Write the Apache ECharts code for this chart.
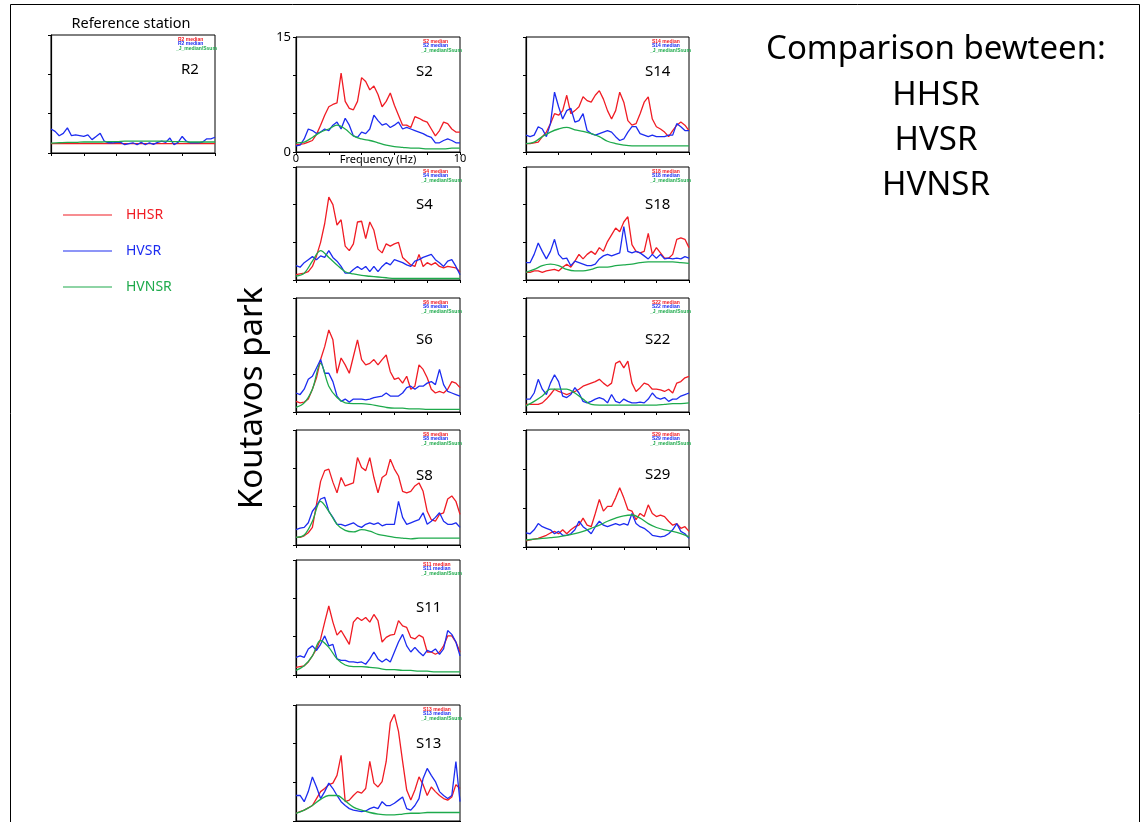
<!DOCTYPE html>
<html>
<head>
<meta charset="utf-8">
<script src="https://cdn.jsdelivr.net/npm/echarts@6/dist/echarts.min.js"></script>
<style>
  html, body { margin: 0; padding: 0; background: #fff; }
  #chart { width: 1148px; height: 822px; }
</style>
</head>
<body>
<div id="chart"></div>
<script>
// frequency axis (Hz)
const freq = [0, 0.25, 0.5, 0.75, 1, 1.25, 1.5, 1.75, 2, 2.25, 2.5, 2.75, 3, 3.25, 3.5, 3.75, 4, 4.25, 4.5, 4.75,
  5, 5.25, 5.5, 5.75, 6, 6.25, 6.5, 6.75, 7, 7.25, 7.5, 7.75, 8, 8.25, 8.5, 8.75, 9, 9.25, 9.5, 9.75, 10];
const freqCoarse = [0, 0.5, 1, 1.5, 2, 2.5, 3, 3.5, 4, 4.5, 5, 5.5, 6, 6.5, 7, 7.5, 8, 8.5, 9, 9.5, 10];
const xTickLabels = [0, 10];
const yTickLabels = [0, 15];

// R2 - reference station
const r2Hhsr = [1.2, 1.2, 1.2, 1.2, 1.2, 1.2, 1.2, 1.2, 1.2, 1.2, 1.2, 1.2, 1.2, 1.2, 1.2, 1.2, 1.2, 1.2, 1.2, 1.2, 1.2];
const r2Hvsr = [3.05, 2.75, 2.2, 2.5, 3.2, 2.2, 2.3, 2.2, 2.1, 2.3, 1.7, 2.1, 2.5, 1.5, 1.3, 1.3, 1.35, 1.35, 1.05, 1.2,
  1.3, 1.05, 1.35, 1.05, 1.3, 1.1, 1.35, 1.5, 1.35, 1.9, 1.05, 1.35, 2.1, 1.5, 1.3, 1.3, 1.3, 1.4, 1.8, 1.8, 2.0];
const r2Hvnsr = [1.25, 1.3, 1.35, 1.35, 1.4, 1.4, 1.4, 1.45, 1.45, 1.5, 1.5, 1.5, 1.5, 1.5, 1.5, 1.45, 1.45, 1.4, 1.4, 1.4, 1.4];

// S2
const s2Hhsr = [1.0, 1.0, 1.1, 1.3, 1.5, 2.3, 3.5, 4.8, 5.9, 6.2, 6.4, 10.3, 6.6, 5.7, 5.5, 6.6, 9.7, 9.2, 8.1, 8.6,
  7.5, 5.9, 6.6, 7.7, 6.1, 4.8, 3.5, 3.5, 3.2, 4.6, 4.4, 4.1, 3.9, 3.0, 2.1, 2.8, 3.9, 3.7, 3.0, 2.6, 2.6];
const s2Hvsr = [0.8, 0.9, 1.7, 3.0, 2.8, 2.4, 2.6, 3.0, 2.8, 3.5, 3.9, 3.0, 4.4, 3.5, 2.1, 1.9, 2.6, 2.4, 3.0, 4.8,
  4.1, 3.5, 3.7, 3.2, 3.5, 3.9, 3.0, 3.2, 3.0, 2.8, 2.6, 2.4, 2.1, 1.9, 1.2, 1.2, 1.5, 1.7, 1.5, 1.2, 1.2];
const s2Hvnsr = [1.2, 1.3, 1.9, 2.6, 3.0, 3.5, 3.0, 2.1, 1.7, 1.5, 1.2, 0.9, 0.7, 0.6, 0.5, 0.5, 0.4, 0.4, 0.4, 0.5, 0.5];

// S4
const s4Hhsr = [0.7, 0.8, 0.9, 1.1, 1.8, 3.2, 5.0, 7.5, 11.0, 10.0, 7.3, 8.0, 4.5, 3.9, 4.8, 7.7, 7.8, 5.5, 7.7, 6.6,
  4.1, 3.6, 4.8, 4.5, 4.8, 5.0, 3.0, 2.5, 2.0, 1.8, 3.4, 1.8, 2.3, 2.0, 2.3, 1.8, 1.6, 1.8, 1.7, 1.6, 1.1];
const s4Hvsr = [1.9, 1.7, 2.3, 2.7, 3.1, 2.7, 3.2, 3.0, 3.9, 3.0, 2.5, 1.8, 0.9, 0.9, 1.4, 1.8, 1.4, 1.8, 1.1, 1.8,
  1.1, 1.8, 2.3, 2.0, 2.7, 2.5, 2.3, 2.0, 1.8, 2.5, 2.7, 3.0, 3.2, 3.4, 2.7, 2.3, 1.8, 2.5, 2.7, 1.8, 0.7];
const s4Hvnsr = [0.5, 0.9, 2.5, 3.9, 3.0, 2.0, 1.1, 0.8, 0.6, 0.5, 0.4, 0.3, 0.2, 0.2, 0.2, 0.2, 0.2, 0.2, 0.2, 0.2, 0.2];

// S6
const s6Hhsr = [1.4, 1.2, 1.3, 1.7, 3.0, 4.5, 6.9, 8.6, 10.8, 9.5, 5.1, 7.1, 6.2, 5.1, 7.3, 9.5, 6.9, 6.2, 6.4, 6.9,
  6.2, 6.9, 7.5, 5.3, 4.3, 4.5, 3.8, 4.7, 3.0, 3.4, 6.2, 5.6, 4.5, 3.0, 2.5, 2.7, 2.5, 3.0, 4.0, 3.8, 3.2];
const s6Hvsr = [2.5, 2.3, 3.0, 4.3, 4.7, 5.8, 6.9, 5.1, 5.1, 4.0, 2.1, 1.4, 1.7, 1.3, 1.7, 1.7, 1.7, 1.6, 1.7, 1.9,
  2.0, 2.1, 2.5, 2.1, 2.1, 2.1, 2.5, 3.2, 3.4, 3.0, 3.4, 3.4, 3.8, 4.0, 3.6, 5.6, 3.6, 2.7, 2.5, 2.3, 2.1];
const s6Hvnsr = [0.6, 1.2, 3.0, 6.4, 3.4, 1.9, 1.2, 1.1, 1.1, 1.0, 0.8, 0.6, 0.5, 0.5, 0.4, 0.4, 0.35, 0.35, 0.35, 0.35, 0.35];

// S8
const s8Hhsr = [1.0, 1.0, 1.2, 1.6, 2.3, 5.3, 8.3, 9.7, 9.9, 8.2, 6.8, 8.8, 7.7, 7.9, 8.1, 11.4, 10.1, 9.7, 11.4, 8.8,
  6.8, 8.8, 9.2, 11.2, 9.9, 9.0, 7.0, 6.8, 7.0, 7.7, 8.1, 7.0, 4.4, 3.3, 3.1, 4.0, 4.2, 6.0, 6.4, 5.7, 4.0];
const s8Hvsr = [2.0, 2.2, 2.3, 2.9, 4.4, 5.1, 6.0, 6.2, 4.4, 3.6, 2.7, 2.7, 2.5, 2.7, 2.9, 2.5, 2.3, 2.7, 2.9, 2.7,
  2.9, 2.5, 2.7, 2.7, 2.7, 5.7, 3.6, 2.7, 2.9, 3.1, 3.3, 4.2, 2.7, 3.1, 3.6, 4.2, 3.1, 2.7, 2.7, 2.9, 2.3];
const s8Hvnsr = [1.0, 1.3, 3.1, 5.7, 4.4, 2.7, 1.9, 1.7, 2.0, 1.8, 1.4, 1.2, 1.0, 0.9, 0.8, 0.9, 0.9, 0.9, 0.9, 0.9, 0.9];

// S11
const s11Hhsr = [1.0, 1.1, 1.2, 1.7, 2.5, 3.4, 4.7, 6.9, 9.0, 6.9, 5.2, 5.8, 4.9, 4.0, 6.9, 7.5, 7.1, 7.5, 6.9, 7.9,
  7.1, 4.3, 4.9, 5.2, 5.3, 7.1, 6.4, 6.2, 4.9, 4.7, 5.2, 4.9, 3.0, 3.0, 2.7, 3.0, 3.8, 5.1, 5.1, 4.3, 3.0];
const s11Hvsr = [2.3, 2.5, 2.3, 3.4, 3.8, 3.2, 4.0, 5.1, 3.8, 4.0, 2.1, 1.9, 1.9, 1.7, 1.7, 1.6, 1.7, 1.4, 2.1, 3.0,
  2.1, 1.7, 2.1, 1.7, 3.0, 4.3, 5.3, 3.8, 3.0, 3.6, 3.0, 2.5, 3.2, 3.0, 3.4, 2.7, 3.4, 5.8, 5.3, 4.3, 2.5];
const s11Hvnsr = [0.6, 1.2, 2.5, 4.5, 3.6, 2.1, 1.3, 1.1, 1.1, 1.0, 0.9, 0.7, 0.7, 0.6, 0.6, 0.5, 0.5, 0.4, 0.4, 0.4, 0.4];

// S13
const s13Hhsr = [1.0, 1.2, 1.4, 1.7, 2.0, 2.9, 3.8, 4.2, 4.7, 4.9, 5.9, 8.5, 2.5, 2.7, 3.3, 3.8, 3.6, 4.2, 7.7, 4.9,
  4.4, 5.1, 7.7, 12.7, 13.8, 11.6, 7.7, 4.0, 2.7, 4.0, 5.7, 4.7, 3.3, 4.4, 3.8, 3.3, 2.9, 2.7, 3.1, 4.7, 4.2];
const s13Hvsr = [3.3, 3.3, 2.5, 3.8, 5.7, 4.4, 2.9, 3.8, 4.9, 4.2, 3.3, 2.5, 2.0, 1.6, 1.4, 1.3, 1.2, 1.3, 1.6, 1.8,
  1.6, 2.5, 2.0, 2.0, 2.3, 2.7, 3.1, 1.6, 1.4, 2.0, 2.9, 5.5, 6.8, 5.9, 5.1, 3.8, 3.3, 2.9, 3.3, 7.7, 2.5];
const s13Hvnsr = [1.0, 1.4, 2.0, 2.8, 3.3, 3.3, 2.6, 1.8, 1.4, 1.1, 0.9, 0.8, 0.8, 0.9, 1.0, 1.0, 1.1, 1.1, 1.1, 1.1, 1.1];

// S14
const s14Hhsr = [1.1, 1.1, 1.2, 1.3, 2.0, 2.6, 3.7, 5.0, 4.8, 5.4, 7.4, 5.0, 5.4, 5.9, 7.2, 6.7, 6.5, 7.4, 8.0, 6.9,
  5.4, 4.3, 5.4, 7.8, 6.5, 4.1, 3.5, 3.7, 5.0, 6.5, 7.2, 4.3, 3.3, 3.0, 2.6, 2.0, 2.8, 3.5, 3.9, 3.5, 2.8];
const s14Hvsr = [2.2, 2.0, 2.2, 3.3, 3.0, 2.0, 3.7, 7.8, 5.9, 4.3, 5.4, 5.7, 3.9, 4.1, 5.0, 2.8, 2.4, 2.2, 2.4, 2.6,
  2.8, 2.6, 2.0, 1.5, 1.7, 2.6, 3.3, 3.3, 2.4, 2.2, 2.0, 2.2, 2.0, 2.0, 2.0, 2.2, 2.2, 3.7, 3.3, 2.8, 2.8];
const s14Hvnsr = [1.1, 1.3, 2.0, 2.6, 3.0, 3.2, 2.9, 2.7, 2.4, 2.0, 1.4, 1.1, 0.9, 0.8, 0.8, 0.8, 0.8, 0.8, 0.8, 0.8, 0.8];

// S18
const s18Hhsr = [1.0, 1.0, 1.2, 1.2, 1.0, 1.2, 1.3, 1.4, 1.2, 1.7, 2.1, 1.7, 2.5, 3.4, 2.8, 3.4, 3.8, 3.4, 4.3, 3.8,
  5.1, 6.0, 6.9, 6.4, 7.7, 8.4, 4.7, 3.8, 3.6, 3.8, 6.2, 3.4, 4.3, 3.6, 2.9, 2.9, 3.4, 5.4, 5.6, 5.4, 4.3];
const s18Hvsr = [2.3, 2.3, 3.4, 4.9, 3.8, 2.8, 3.8, 5.4, 3.4, 2.8, 2.9, 1.9, 2.5, 2.3, 2.1, 1.9, 1.9, 2.1, 2.8, 3.2,
  3.4, 3.2, 3.4, 3.6, 7.1, 3.8, 3.6, 3.8, 3.6, 3.2, 2.8, 3.4, 2.9, 3.4, 2.8, 2.9, 2.8, 2.9, 2.8, 3.1, 2.9];
const s18Hvnsr = [1.0, 1.4, 1.9, 2.1, 1.9, 1.4, 1.2, 1.2, 1.4, 1.7, 1.7, 1.9, 2.0, 2.1, 2.3, 2.4, 2.4, 2.4, 2.4, 2.3, 2.2];

// S22
const s22Hhsr = [1.0, 1.0, 1.0, 1.0, 1.2, 1.7, 2.3, 3.0, 2.7, 2.5, 2.3, 2.5, 2.7, 3.0, 3.4, 3.6, 3.8, 4.0, 4.3, 3.8,
  3.4, 3.8, 6.4, 6.7, 5.8, 6.7, 3.8, 2.7, 3.2, 3.8, 3.6, 3.0, 3.0, 2.9, 2.7, 3.0, 2.5, 3.8, 4.0, 4.5, 4.7];
const s22Hvsr = [1.7, 1.7, 2.5, 4.3, 3.0, 2.3, 3.8, 4.9, 4.0, 2.1, 1.9, 2.3, 3.2, 2.5, 1.4, 1.2, 1.4, 1.7, 1.9, 1.7,
  1.2, 2.3, 1.4, 1.2, 1.7, 1.4, 1.2, 1.2, 1.3, 1.2, 1.7, 2.5, 1.9, 1.7, 1.9, 1.4, 1.7, 1.7, 2.1, 2.3, 2.5];
const s22Hvnsr = [0.8, 1.4, 2.1, 3.0, 3.0, 3.0, 2.5, 1.7, 1.0, 0.9, 0.9, 0.9, 0.9, 0.9, 0.9, 0.9, 0.9, 1.0, 1.1, 1.1, 1.2];

// S29
const s29Hhsr = [0.8, 0.9, 1.0, 1.1, 1.3, 1.5, 1.8, 2.0, 1.7, 2.2, 1.7, 2.2, 2.6, 2.8, 3.7, 2.8, 2.6, 4.3, 6.1, 4.6,
  5.2, 5.2, 6.3, 7.6, 6.3, 4.8, 4.6, 3.5, 4.3, 3.9, 5.4, 4.3, 3.9, 4.1, 3.9, 3.3, 2.8, 3.0, 2.4, 2.6, 2.0];
const s29Hvsr = [1.8, 1.7, 2.2, 3.0, 2.6, 2.4, 2.2, 1.7, 2.0, 1.5, 1.5, 1.7, 2.2, 3.3, 2.6, 2.2, 1.7, 2.6, 3.3, 2.8,
  2.6, 2.8, 3.0, 2.8, 3.0, 2.8, 4.3, 3.0, 2.6, 2.4, 2.0, 1.5, 1.4, 1.3, 1.4, 1.7, 2.2, 3.0, 2.0, 1.7, 1.1];
const s29Hvnsr = [0.9, 1.0, 1.1, 1.2, 1.3, 1.5, 1.7, 2.0, 2.4, 2.8, 3.3, 3.7, 4.0, 4.1, 3.7, 3.0, 2.5, 2.2, 2.0, 1.7, 1.3];

const RED = '#f01c24';
const BLUE = '#1c2cf0';
const GREEN = '#1eaa4c';

// layout of the small panels (px)
const panels = [
  { name: 'R2', hhsr: r2Hhsr, hhsrX: freqCoarse, hvsr: r2Hvsr, hvnsr: r2Hvnsr, left: 51, top: 35, width: 164, height: 118, labelX: 181, labelY: 70 },
  { name: 'S2', hhsr: s2Hhsr, hvsr: s2Hvsr, hvnsr: s2Hvnsr, left: 296, top: 37, width: 164, height: 115, labelX: 416, labelY: 72 },
  { name: 'S4', hhsr: s4Hhsr, hvsr: s4Hvsr, hvnsr: s4Hvnsr, left: 296, top: 167, width: 164, height: 113, labelX: 416, labelY: 205 },
  { name: 'S6', hhsr: s6Hhsr, hvsr: s6Hvsr, hvnsr: s6Hvnsr, left: 296, top: 298, width: 164, height: 114, labelX: 416, labelY: 340 },
  { name: 'S8', hhsr: s8Hhsr, hvsr: s8Hvsr, hvnsr: s8Hvnsr, left: 296, top: 430, width: 164, height: 115, labelX: 416, labelY: 476 },
  { name: 'S11', hhsr: s11Hhsr, hvsr: s11Hvsr, hvnsr: s11Hvnsr, left: 296, top: 560, width: 164, height: 115, labelX: 416, labelY: 608 },
  { name: 'S13', hhsr: s13Hhsr, hvsr: s13Hvsr, hvnsr: s13Hvnsr, left: 296, top: 705, width: 164, height: 116, labelX: 416, labelY: 744 },
  { name: 'S14', hhsr: s14Hhsr, hvsr: s14Hvsr, hvnsr: s14Hvnsr, left: 526, top: 37, width: 163, height: 115, labelX: 645, labelY: 72 },
  { name: 'S18', hhsr: s18Hhsr, hvsr: s18Hvsr, hvnsr: s18Hvnsr, left: 526, top: 167, width: 163, height: 113, labelX: 645, labelY: 205 },
  { name: 'S22', hhsr: s22Hhsr, hvsr: s22Hvsr, hvnsr: s22Hvnsr, left: 526, top: 298, width: 163, height: 114, labelX: 645, labelY: 340 },
  { name: 'S29', hhsr: s29Hhsr, hvsr: s29Hvsr, hvnsr: s29Hvnsr, left: 526, top: 430, width: 163, height: 117, labelX: 645, labelY: 475 }
];

function pairs(xs, ys) {
  return xs.map((x, i) => [x, ys[i]]);
}

const grids = [];
const xAxes = [];
const yAxes = [];
const series = [];
const graphics = [];

panels.forEach((p, i) => {
  const withLabels = p.name === 'S2';
  grids.push({
    left: p.left, top: p.top, width: p.width, height: p.height,
    show: true, borderColor: '#000', borderWidth: 1, outerBoundsMode: 'none'
  });
  xAxes.push({
    gridIndex: i, type: 'value', min: 0, max: 10, interval: 2,
    axisLine: { show: true, onZero: false, lineStyle: { color: '#000', width: 1.2 } },
    axisTick: { show: true, length: 3, lineStyle: { color: '#000' } },
    splitLine: { show: false },
    axisLabel: {
      show: withLabels, color: '#000', fontSize: 11, margin: 1,
      fontFamily: 'Noto Sans',
      formatter: v => (xTickLabels.includes(v) ? String(v) : '')
    },
    name: withLabels ? 'Frequency (Hz)' : '',
    nameLocation: 'middle', nameGap: 2, nameMoveOverlap: false,
    nameTextStyle: { color: '#000', fontSize: 11, fontFamily: 'Noto Sans' }
  });
  yAxes.push({
    gridIndex: i, type: 'value', min: 0, max: 15, interval: 5,
    axisLine: { show: true, onZero: false, lineStyle: { color: '#000', width: 1.2 } },
    axisTick: { show: true, length: 3, lineStyle: { color: '#000' } },
    splitLine: { show: false },
    axisLabel: {
      show: withLabels, color: '#000', fontSize: 13, margin: 5,
      fontFamily: 'Noto Sans',
      formatter: v => (yTickLabels.includes(v) ? String(v) : '')
    }
  });
  const common = { type: 'line', xAxisIndex: i, yAxisIndex: i, showSymbol: false, silent: true };
  series.push(Object.assign({}, common, {
    name: 'HHSR', data: pairs(p.hhsrX || freq, p.hhsr),
    lineStyle: { color: RED, width: 1.3 }, itemStyle: { color: RED }
  }));
  series.push(Object.assign({}, common, {
    name: 'HVSR', data: pairs(freq, p.hvsr),
    lineStyle: { color: BLUE, width: 1.3 }, itemStyle: { color: BLUE }
  }));
  series.push(Object.assign({}, common, {
    name: 'HVNSR', data: pairs(freqCoarse, p.hvnsr), smooth: 0.35,
    lineStyle: { color: GREEN, width: 1.3 }, itemStyle: { color: GREEN }
  }));

  // panel name
  graphics.push({
    type: 'text', x: p.labelX, y: p.labelY,
    style: { text: p.name, fill: '#000', font: '15px "Noto Sans"', textVerticalAlign: 'middle' }
  });
  // tiny in-panel legend
  const lx = p.left + p.width - 37;
  const ly = p.top + 2;
  graphics.push(
    { type: 'text', x: lx, y: ly, style: { text: p.name + ' median', fill: RED, font: 'bold 5px sans-serif' } },
    { type: 'text', x: lx, y: ly + 4.5, style: { text: p.name + ' median', fill: BLUE, font: 'bold 5px sans-serif' } },
    { type: 'text', x: lx - 2, y: ly + 9, style: { text: '_J_median/Ssum', fill: GREEN, font: 'bold 5px sans-serif' } }
  );
});

// left legend
const legendRows = [
  { text: 'HHSR', color: RED, y: 215 },
  { text: 'HVSR', color: BLUE, y: 251 },
  { text: 'HVNSR', color: GREEN, y: 287 }
];
legendRows.forEach(r => {
  graphics.push(
    { type: 'line', shape: { x1: 63, y1: r.y, x2: 112, y2: r.y }, style: { stroke: r.color, lineWidth: 1.2 } },
    { type: 'text', x: 126, y: r.y, style: { text: r.text, fill: r.color, font: '14px "Noto Sans"', textVerticalAlign: 'middle' } }
  );
});

graphics.push(
  { type: 'text', x: 131, y: 24, style: { text: 'Reference station', fill: '#000', font: '14.5px "Noto Sans"', textAlign: 'center', textVerticalAlign: 'middle' } },
  { type: 'text', x: 253, y: 398, rotation: Math.PI / 2, style: { text: 'Koutavos park', fill: '#000', font: '33px "Noto Sans"', textAlign: 'center', textVerticalAlign: 'middle' } },
  { type: 'text', x: 936, y: 50, style: { text: 'Comparison bewteen:', fill: '#000', font: '33px "Noto Sans"', textAlign: 'center', textVerticalAlign: 'middle' } },
  { type: 'text', x: 936, y: 96, style: { text: 'HHSR', fill: '#000', font: '33px "Noto Sans"', textAlign: 'center', textVerticalAlign: 'middle' } },
  { type: 'text', x: 936, y: 141, style: { text: 'HVSR', fill: '#000', font: '33px "Noto Sans"', textAlign: 'center', textVerticalAlign: 'middle' } },
  { type: 'text', x: 936, y: 186, style: { text: 'HVNSR', fill: '#000', font: '33px "Noto Sans"', textAlign: 'center', textVerticalAlign: 'middle' } },
  // page frame
  { type: 'rect', shape: { x: 10.5, y: 4.5, width: 1129, height: 830 }, style: { fill: 'none', stroke: '#000', lineWidth: 1 } }
);

const chart = echarts.init(document.getElementById('chart'), null, { renderer: 'canvas' });
chart.setOption({
  animation: false,
  backgroundColor: '#fff',
  grid: grids,
  xAxis: xAxes,
  yAxis: yAxes,
  series: series,
  graphic: graphics
});
</script>
</body>
</html>
